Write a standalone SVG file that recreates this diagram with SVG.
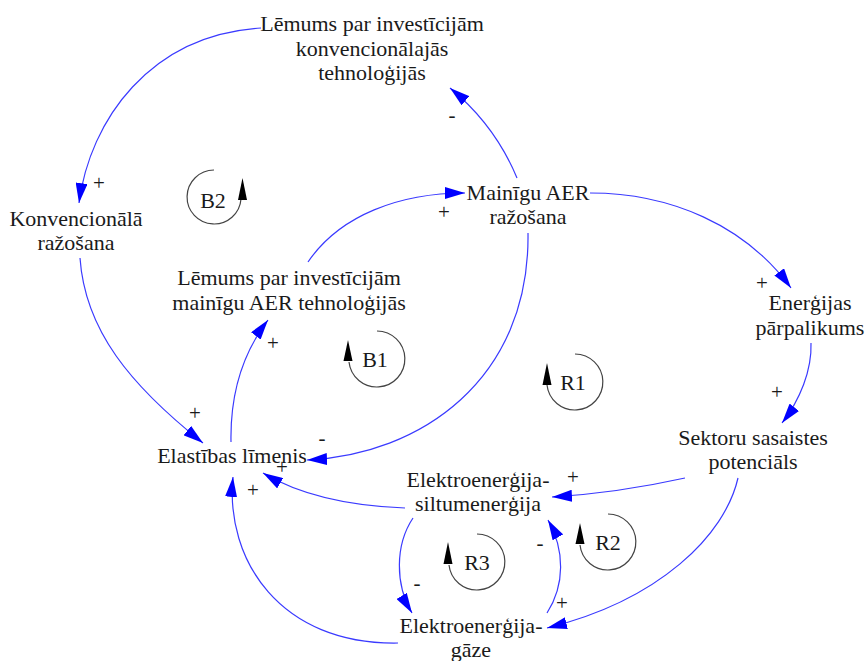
<svg xmlns="http://www.w3.org/2000/svg" width="865" height="661" viewBox="0 0 865 661">
<defs>
<style>
text{font-family:"Liberation Serif","Times New Roman",serif;fill:#1a1a1a}
.n{font-size:22px;text-anchor:middle}
.s{font-size:21px;text-anchor:middle}
.c{fill:none;stroke:#3a3aff;stroke-width:1.2}
.l{fill:none;stroke:#444;stroke-width:1.2}
.h{fill:#000}
</style>
<marker id="a" markerUnits="userSpaceOnUse" markerWidth="20" markerHeight="12" refX="20" refY="6" orient="auto">
<path d="M0,0 L20,6 L0,12 z" fill="#0000ff"/>
</marker>
</defs>
<rect width="865" height="661" fill="#fff"/>
<g id="connectors">
<path class="c" marker-end="url(#a)" d="M261,28 C150,35 90,120 79,203"/>
<path class="c" marker-end="url(#a)" d="M517,178 Q495,125 450,88"/>
<path class="c" marker-end="url(#a)" d="M80,258 C85,330 130,385 203,443"/>
<path class="c" marker-end="url(#a)" d="M231,442 C230,390 245,350 268,320"/>
<path class="c" marker-end="url(#a)" d="M308,262 C340,215 400,193 465,193"/>
<path class="c" marker-end="url(#a)" d="M590,193 C670,193 745,225 791,288"/>
<path class="c" marker-end="url(#a)" d="M811,343 C812,370 800,400 782,423"/>
<path class="c" marker-end="url(#a)" d="M685,478 C640,488 600,494 552,497"/>
<path class="c" marker-end="url(#a)" d="M738,478 C725,535 660,600 547,628"/>
<path class="c" marker-end="url(#a)" d="M405,508 C350,506 300,495 263,473"/>
<path class="c" marker-end="url(#a)" d="M398,643 C280,645 225,560 233,477"/>
<path class="c" marker-end="url(#a)" d="M413,518 C395,545 395,585 412,613"/>
<path class="c" marker-end="url(#a)" d="M547,613 C565,585 565,550 548,520"/>
<path class="c" marker-end="url(#a)" d="M528,233 C530,380 420,455 307,460"/>
<g id="signs">
<text class="s" x="99" y="190">+</text>
<text class="s" x="452" y="122">-</text>
<text class="s" x="444" y="219">+</text>
<text class="s" x="762" y="290">+</text>
<text class="s" x="777" y="399">+</text>
<text class="s" x="195" y="420">+</text>
<text class="s" x="273" y="350">+</text>
<text class="s" x="322" y="445">-</text>
<text class="s" x="282" y="474">+</text>
<text class="s" x="253" y="497">+</text>
<text class="s" x="573" y="484">+</text>
<text class="s" x="417" y="590">-</text>
<text class="s" x="540" y="550">-</text>
<text class="s" x="562" y="610">+</text>
</g>
</g>
<g id="loop-B2"><path class="l" d="M214,170 A27,27 0 1,0 241,199"/><polygon class="h" points="238,200 247,200 242.5,178"/><text class="n" x="213" y="207.5">B2</text></g>
<g id="loop-B1"><path class="l" d="M377,331 A28,28 0 1,1 349,362"/><polygon class="h" points="343.5,361 352.5,361 348,340"/><text class="n" x="375" y="367">B1</text></g>
<g id="loop-R1"><path class="l" d="M575,354 A28,28 0 1,1 547,385"/><polygon class="h" points="542.5,385 551.5,385 547,363"/><text class="n" x="573" y="390">R1</text></g>
<g id="loop-R2"><path class="l" d="M608,514 A28,28 0 1,1 580,545"/><polygon class="h" points="575.5,544 584.5,544 580,523"/><text class="n" x="608" y="550">R2</text></g>
<g id="loop-R3"><path class="l" d="M477,534 A28,28 0 1,1 449,565"/><polygon class="h" points="443.5,564 452.5,564 448,542"/><text class="n" x="477" y="570">R3</text></g>
<g id="lemums-konv"><text class="n" x="372" y="31">Lēmums par investīcijām</text><text class="n" x="372" y="55.5">konvencionālajās</text><text class="n" x="372" y="80">tehnoloģijās</text></g>
<g id="konv-razosana"><text class="n" x="76" y="226">Konvencionālā</text><text class="n" x="76" y="250">ražošana</text></g>
<g id="mainigu-razosana"><text class="n" x="528" y="200">Mainīgu AER</text><text class="n" x="528" y="224">ražošana</text></g>
<g id="lemums-mainigu"><text class="n" x="289" y="285">Lēmums par investīcijām</text><text class="n" x="289" y="310">mainīgu AER tehnoloģijās</text></g>
<g id="energijas"><text class="n" x="810" y="310">Enerģijas</text><text class="n" x="810" y="335">pārpalikums</text></g>
<g id="sektoru"><text class="n" x="753" y="445">Sektoru sasaistes</text><text class="n" x="753" y="469">potenciāls</text></g>
<g id="elastibas"><text class="n" x="232" y="463">Elastības līmenis</text></g>
<g id="elektro-siltum"><text class="n" x="478" y="487">Elektroenerģija-</text><text class="n" x="478" y="511">siltumenerģija</text></g>
<g id="elektro-gaze"><text class="n" x="471" y="633">Elektroenerģija-</text><text class="n" x="471" y="657">gāze</text></g>
</svg>
